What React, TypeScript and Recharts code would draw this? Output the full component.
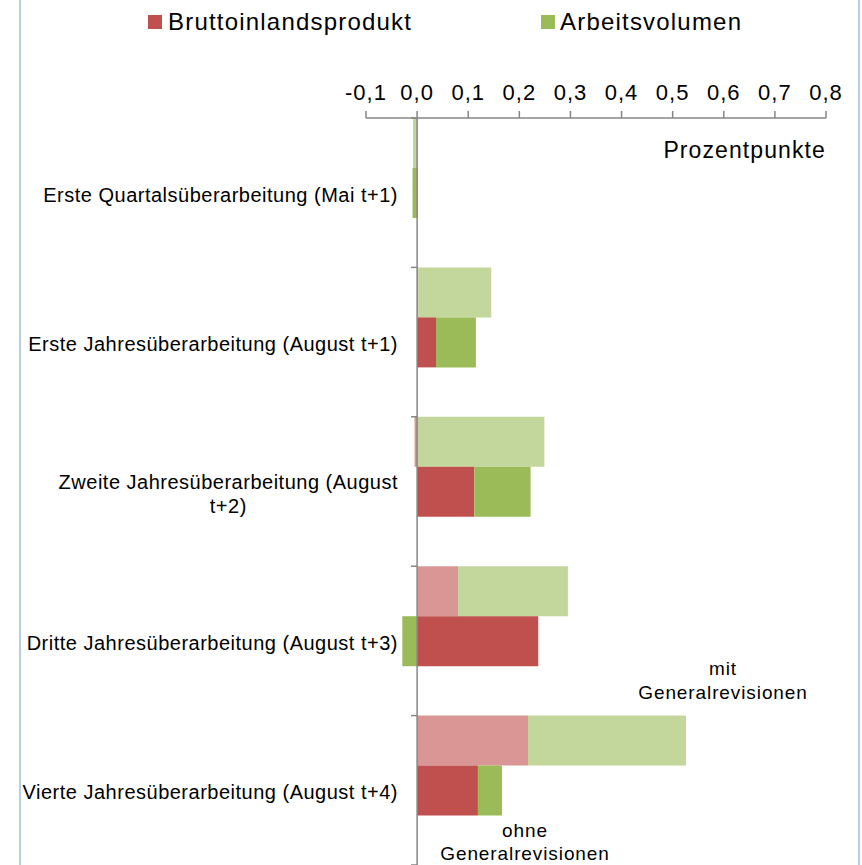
import React from 'react';
import { BarChart, Bar, XAxis, YAxis, ReferenceLine } from 'recharts';

const categories = [
  'Erste Quartalsüberarbeitung (Mai t+1)',
  'Erste Jahresüberarbeitung (August t+1)',
  'Zweite Jahresüberarbeitung (August t+2)',
  'Dritte Jahresüberarbeitung (August t+3)',
  'Vierte Jahresüberarbeitung (August t+4)',
];
const categoryLabelLines = [
  ['Erste Quartalsüberarbeitung (Mai t+1)'],
  ['Erste Jahresüberarbeitung (August t+1)'],
  ['Zweite Jahresüberarbeitung (August', 't+2)'],
  ['Dritte Jahresüberarbeitung (August t+3)'],
  ['Vierte Jahresüberarbeitung (August t+4)'],
];

// mit Generalrevisionen (light)
const bipMit = [0.001, 0.002, -0.005, 0.08, 0.217];
const avMit = [-0.008, 0.143, 0.249, 0.215, 0.309];
// ohne Generalrevisionen (dark)
const bipOhne = [0.001, 0.037, 0.112, 0.237, 0.119];
const avOhne = [-0.009, 0.078, 0.11, -0.029, 0.047];
const padding = [0, 0, 0, 0, 0];

const xTicks = [-0.1, 0, 0.1, 0.2, 0.3, 0.4, 0.5, 0.6, 0.7, 0.8];
const xDomain = [-0.1, 0.8];
const legendLabels = ['Bruttoinlandsprodukt', 'Arbeitsvolumen'];
const unitLabel = 'Prozentpunkte';
const mitLabel = ['mit', 'Generalrevisionen'];
const ohneLabel = ['ohne', 'Generalrevisionen'];

const data = categories.map((name, i) => ({
  name,
  bipMit: bipMit[i],
  avMit: avMit[i],
  bipOhne: bipOhne[i],
  avOhne: avOhne[i],
  pad: padding[i],
}));

const FONT = '"Liberation Sans", Arial, sans-serif';
const C_RED = '#C0504D';
const C_GREEN = '#9BBB59';
const C_RED_L = '#D99694';
const C_GREEN_L = '#C3D69B';
const AXIS = '#868686';

const W = 862;
const H = 865;

const CategoryTick = (props: any) => {
  const { y, payload } = props;
  const idx = categories.indexOf(payload.value);
  const lines = categoryLabelLines[idx] ?? [payload.value];
  return (
    <foreignObject x={0} y={y - 38} width={398} height={80}>
      <div
        style={{
          height: '100%',
          display: 'flex',
          alignItems: 'center',
          justifyContent: 'flex-end',
        }}
      >
        <div
          style={{
            textAlign: 'center',
            fontFamily: FONT,
            fontSize: 20,
            letterSpacing: 0.5,
            lineHeight: '24px',
            color: '#000',
            whiteSpace: 'nowrap',
          }}
        >
          {lines.map((l) => (
            <div key={l}>{l}</div>
          ))}
        </div>
      </div>
    </foreignObject>
  );
};

const fmt = (v: number) => v.toFixed(1).replace('.', ',');

const textStyle: React.CSSProperties = {
  position: 'absolute',
  fontFamily: FONT,
  color: '#000',
  whiteSpace: 'nowrap',
};

export default function App() {
  const last = categories[categories.length - 1];
  return (
    <div style={{ position: 'absolute', left: 0, top: 0, width: W, height: H, background: '#fff', overflow: 'hidden' }}>
      <div style={{ position: 'absolute', left: 19, top: 0, width: 2, height: H, background: '#B9CDE5' }} />
      <div style={{ position: 'absolute', left: 858, top: 0, width: 2, height: H, background: '#B9CDE5' }} />

      {/* legend */}
      <div style={{ position: 'absolute', left: 148, top: 15, width: 14, height: 14, background: C_RED }} />
      <div style={{ ...textStyle, left: 168, top: 8, fontSize: 24, letterSpacing: 1.2, lineHeight: '28px' }}>{legendLabels[0]}</div>
      <div style={{ position: 'absolute', left: 541, top: 15, width: 14, height: 14, background: C_GREEN }} />
      <div style={{ ...textStyle, left: 560, top: 8, fontSize: 24, letterSpacing: 1.2, lineHeight: '28px' }}>{legendLabels[1]}</div>

      <div style={{ position: 'absolute', left: 0, top: 0 }}>
        <BarChart
          width={W}
          height={H}
          data={data}
          layout="vertical"
          stackOffset="sign"
          barCategoryGap={0}
          barGap={0}
          margin={{ top: 78, right: 36, bottom: 0, left: 0 }}
        >
          <XAxis
            type="number"
            orientation="top"
            domain={xDomain}
            ticks={xTicks}
            interval={0}
            height={40}
            tickFormatter={fmt}
            tickSize={7}
            tickMargin={11}
            axisLine={{ stroke: AXIS, strokeWidth: 1.5 }}
            tickLine={{ stroke: AXIS, strokeWidth: 1.5 }}
            tick={{ fill: '#000', fontSize: 22, fontFamily: FONT, letterSpacing: 1 }}
            allowDataOverflow
          />
          <YAxis
            type="category"
            dataKey="name"
            width={366}
            axisLine={false}
            tickLine={false}
            interval={0}
            tick={<CategoryTick />}
          />
          <Bar dataKey="bipMit" stackId="mit" fill={C_RED_L} isAnimationActive={false} />
          <Bar dataKey="avMit" stackId="mit" fill={C_GREEN_L} isAnimationActive={false} />
          <Bar dataKey="bipOhne" stackId="ohne" fill={C_RED} isAnimationActive={false} />
          <Bar dataKey="avOhne" stackId="ohne" fill={C_GREEN} isAnimationActive={false} />
          <Bar dataKey="pad" stackId="pad" fill="none" legendType="none" isAnimationActive={false} />
          <ReferenceLine x={0} stroke={AXIS} strokeWidth={1.5} />
          {categories.map((c) => (
            <ReferenceLine
              key={c}
              position="start"
              segment={[
                { x: -0.012, y: c },
                { x: 0, y: c },
              ]}
              stroke={AXIS}
              strokeWidth={1.5}
            />
          ))}
          <ReferenceLine
            position="end"
            segment={[
              { x: -0.012, y: last },
              { x: 0, y: last },
            ]}
            stroke={AXIS}
            strokeWidth={1.5}
          />
        </BarChart>
      </div>

      <div style={{ ...textStyle, right: 862 - 826, top: 136, fontSize: 23, letterSpacing: 1.1, lineHeight: '28px' }}>{unitLabel}</div>
      <div style={{ ...textStyle, left: 623, width: 200, top: 657, fontSize: 19, letterSpacing: 0.9, lineHeight: '24px', textAlign: 'center' }}>
        {mitLabel.map((l) => (
          <div key={l}>{l}</div>
        ))}
      </div>
      <div style={{ ...textStyle, left: 425, width: 200, top: 819, fontSize: 19, letterSpacing: 0.9, lineHeight: '23px', textAlign: 'center' }}>
        {ohneLabel.map((l) => (
          <div key={l}>{l}</div>
        ))}
      </div>
    </div>
  );
}
